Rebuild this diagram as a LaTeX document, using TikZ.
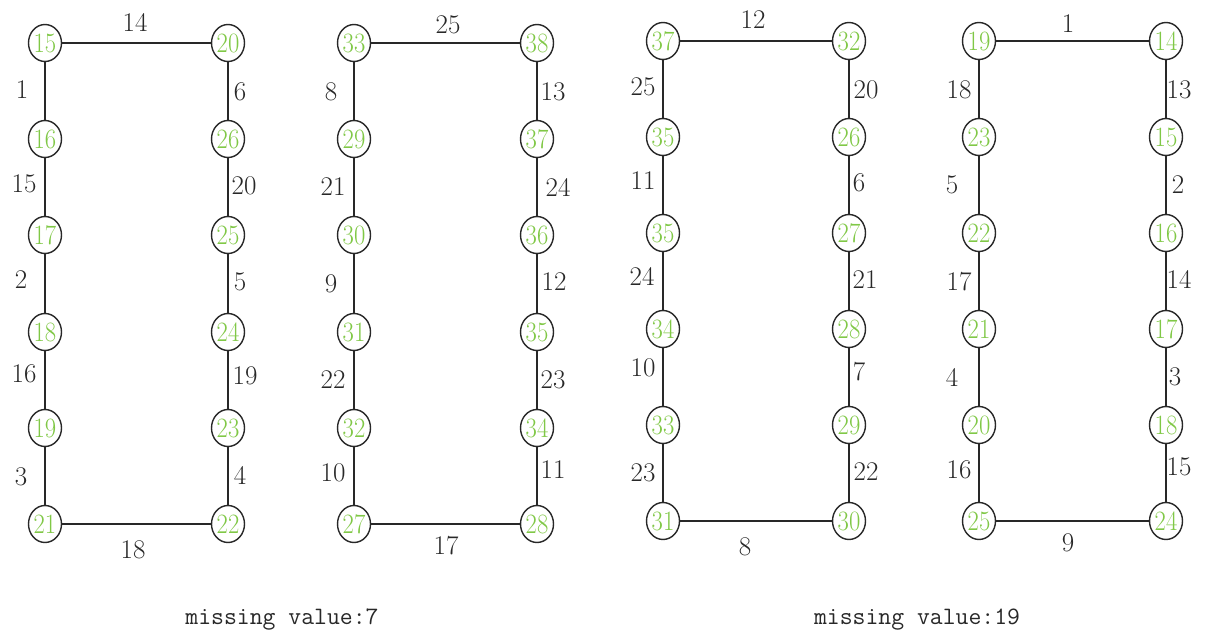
\documentclass[tikz,border=0pt]{standalone}
\usepackage{graphicx}
\usetikzlibrary{shapes.geometric}
\definecolor{ngreen}{RGB}{128,200,70}
\definecolor{ink}{RGB}{40,40,40}
\newcommand\nodetxt[1]{\makebox[0pt]{\scalebox{0.88}[1]{#1}}}
\begin{document}
\begin{tikzpicture}[x=1pt,y=-1pt,
  vnode/.style={ellipse,draw=ink,line width=1.4pt,fill=white,minimum width=33pt,minimum height=37pt,inner sep=0pt,text=ngreen,font=\fontsize{28}{28}\selectfont},
  elabel/.style={text=ink,font=\fontsize{27}{27}\selectfont,inner sep=0pt},
  edge/.style={draw=ink,line width=1.4pt},
  note/.style={text=ink,font=\ttfamily\fontsize{25}{25}\selectfont,inner sep=0pt}]
\useasboundingbox[fill=white] (0,0) rectangle (1205,634);

% ---------- graph 1 ----------
\foreach \r/\t/\y in {1/15/43,2/16/139,3/17/235,4/18/332,5/19/428,6/21/524}
  \node[vnode] (al\r) at (45,\y) {\nodetxt{\t}};
\foreach \r/\t/\y in {1/20/43,2/26/139,3/25/235,4/24/332,5/23/428,6/22/524}
  \node[vnode] (ar\r) at (228,\y) {\nodetxt{\t}};
% ---------- graph 2 ----------
\foreach \r/\t/\y in {1/33/43,2/29/139,3/30/235,4/31/332,5/32/428,6/27/524}
  \node[vnode] (bl\r) at (354,\y) {\nodetxt{\t}};
\foreach \r/\t/\y in {1/38/43,2/37/139,3/36/235,4/35/332,5/34/428,6/28/524}
  \node[vnode] (br\r) at (537,\y) {\nodetxt{\t}};
% ---------- graph 3 ----------
\foreach \r/\t/\y in {1/37/41,2/35/137,3/35/233,4/34/329,5/33/425,6/31/521}
  \node[vnode] (cl\r) at (663,\y) {\nodetxt{\t}};
\foreach \r/\t/\y in {1/32/41,2/26/137,3/27/233,4/28/329,5/29/425,6/30/521}
  \node[vnode] (cr\r) at (849,\y) {\nodetxt{\t}};
% ---------- graph 4 ----------
\foreach \r/\t/\y in {1/19/41,2/23/137,3/22/233,4/21/329,5/20/425,6/25/521}
  \node[vnode] (dl\r) at (979,\y) {\nodetxt{\t}};
\foreach \r/\t/\y in {1/14/41,2/15/137,3/16/233,4/17/329,5/18/425,6/24/521}
  \node[vnode] (dr\r) at (1166,\y) {\nodetxt{\t}};

% ---------- connectors ----------
\foreach \g in {a,b,c,d}{
  \draw[edge] (\g l1) -- (\g r1);
  \draw[edge] (\g l6) -- (\g r6);
  \foreach \i/\j in {1/2,2/3,3/4,4/5,5/6}{
    \draw[edge] (\g l\i) -- (\g l\j);
    \draw[edge] (\g r\i) -- (\g r\j);
  }
}

% ---------- edge labels, graph 1 ----------
\node[elabel] (la1) at (135,22) {14};
\node[elabel] (la2) at (133,550) {18};
\foreach \t/\x/\y [count=\k] in {1/22/90,15/24/184,2/21/280,16/24/374,3/21/477}
  \node[elabel] (lal\k) at (\x,\y) {\t};
\foreach \t/\x/\y [count=\k] in {6/240/92,20/244/186,5/240/282,19/245/376,4/240/475}
  \node[elabel] (lar\k) at (\x,\y) {\t};
% ---------- edge labels, graph 2 ----------
\node[elabel] (lb1) at (448,25) {25};
\node[elabel] (lb2) at (446,546) {17};
\foreach \t/\x/\y [count=\k] in {8/331/92,21/333/187,9/331/284,22/333/380,10/333/473}
  \node[elabel] (lbl\k) at (\x,\y) {\t};
\foreach \t/\x/\y [count=\k] in {13/553/92,24/558/187,12/554/282,23/553/380,11/553/470}
  \node[elabel] (lbr\k) at (\x,\y) {\t};
% ---------- edge labels, graph 3 ----------
\node[elabel] (lc1) at (753,20) {12};
\node[elabel] (lc2) at (745,547) {8};
\foreach \t/\x/\y [count=\k] in {25/643/87,11/643/181,24/642/276,10/643/368,23/643/473}
  \node[elabel] (lcl\k) at (\x,\y) {\t};
\foreach \t/\x/\y [count=\k] in {20/866/90,6/859/183,21/865/280,7/859/372,22/866/472}
  \node[elabel] (lcr\k) at (\x,\y) {\t};
% ---------- edge labels, graph 4 ----------
\node[elabel] (ld1) at (1068,24) {1};
\node[elabel] (ld2) at (1068,543) {9};
\foreach \t/\x/\y [count=\k] in {18/959/90,5/952/185,17/959/282,4/952/377,16/959/470}
  \node[elabel] (ldl\k) at (\x,\y) {\t};
\foreach \t/\x/\y [count=\k] in {13/1179/90,2/1178/185,14/1179/279,3/1175/377,15/1179/467}
  \node[elabel] (ldr\k) at (\x,\y) {\t};

% ---------- notes ----------
\node[note] (m1) at (282,620) {missing value:7};
\node[note] (m2) at (917,620) {missing value:19};
\end{tikzpicture}
\end{document}
